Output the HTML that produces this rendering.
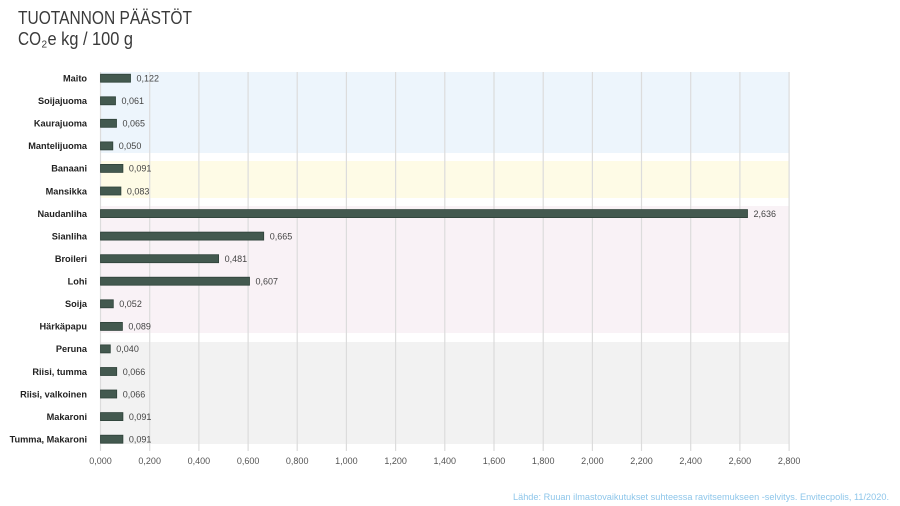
<!DOCTYPE html>
<html>
<head>
<meta charset="utf-8">
<style>
html,body{margin:0;padding:0;background:#fff;}
svg{display:block;}
text{font-family:"Liberation Sans",sans-serif;}
</style>
</head>
<body>
<svg width="900" height="506" viewBox="0 0 900 506" xmlns="http://www.w3.org/2000/svg">
  <!-- Title -->
  <text x="18" y="24" font-size="18.5" fill="#3a3a3a" textLength="174" lengthAdjust="spacingAndGlyphs">TUOTANNON PÄÄSTÖT</text>
  <text x="18" y="45" font-size="18.5" fill="#3a3a3a" textLength="23" lengthAdjust="spacingAndGlyphs">CO</text>
  <text x="41.5" y="47.5" font-size="10" fill="#3a3a3a">2</text>
  <text x="47.5" y="45" font-size="18.5" fill="#3a3a3a" textLength="85.5" lengthAdjust="spacingAndGlyphs">e kg / 100 g</text>

  <!-- Bands -->
  <rect x="100" y="72" width="689" height="81" fill="#edf5fc"/>
  <rect x="100" y="161" width="689" height="37" fill="#fefbe6"/>
  <rect x="100" y="206" width="689" height="127" fill="#f9f2f6"/>
  <rect x="100" y="342" width="689" height="102" fill="#f2f2f2"/>

  <!-- Gridlines -->
  <g stroke="#dcdcdc" stroke-width="1.2">
    <line x1="100.5" y1="72" x2="100.5" y2="451"/>
    <line x1="149.7" y1="72" x2="149.7" y2="451"/>
    <line x1="198.9" y1="72" x2="198.9" y2="451"/>
    <line x1="248.1" y1="72" x2="248.1" y2="451"/>
    <line x1="297.2" y1="72" x2="297.2" y2="451"/>
    <line x1="346.4" y1="72" x2="346.4" y2="451"/>
    <line x1="395.6" y1="72" x2="395.6" y2="451"/>
    <line x1="444.8" y1="72" x2="444.8" y2="451"/>
    <line x1="494.0" y1="72" x2="494.0" y2="451"/>
    <line x1="543.2" y1="72" x2="543.2" y2="451"/>
    <line x1="592.4" y1="72" x2="592.4" y2="451"/>
    <line x1="641.5" y1="72" x2="641.5" y2="451"/>
    <line x1="690.7" y1="72" x2="690.7" y2="451"/>
    <line x1="739.9" y1="72" x2="739.9" y2="451"/>
    <line x1="789.1" y1="72" x2="789.1" y2="451"/>
  </g>

  <!-- Axis labels -->
  <g font-size="9" fill="#555" text-anchor="middle">
    <text x="100.5" y="464">0,000</text>
    <text x="149.7" y="464">0,200</text>
    <text x="198.9" y="464">0,400</text>
    <text x="248.1" y="464">0,600</text>
    <text x="297.2" y="464">0,800</text>
    <text x="346.4" y="464">1,000</text>
    <text x="395.6" y="464">1,200</text>
    <text x="444.8" y="464">1,400</text>
    <text x="494.0" y="464">1,600</text>
    <text x="543.2" y="464">1,800</text>
    <text x="592.4" y="464">2,000</text>
    <text x="641.5" y="464">2,200</text>
    <text x="690.7" y="464">2,400</text>
    <text x="739.9" y="464">2,600</text>
    <text x="789.1" y="464">2,800</text>
  </g>

  <!-- Category labels -->
  <g font-size="9.2" font-weight="bold" fill="#222" text-anchor="end">
    <text x="87" y="81.5">Maito</text>
    <text x="87" y="104.1">Soijajuoma</text>
    <text x="87" y="126.6">Kaurajuoma</text>
    <text x="87" y="149.2">Mantelijuoma</text>
    <text x="87" y="171.7">Banaani</text>
    <text x="87" y="194.3">Mansikka</text>
    <text x="87" y="216.9">Naudanliha</text>
    <text x="87" y="239.4">Sianliha</text>
    <text x="87" y="262.0">Broileri</text>
    <text x="87" y="284.5">Lohi</text>
    <text x="87" y="307.1">Soija</text>
    <text x="87" y="329.7">Härkäpapu</text>
    <text x="87" y="352.2">Peruna</text>
    <text x="87" y="374.8">Riisi, tumma</text>
    <text x="87" y="397.3">Riisi, valkoinen</text>
    <text x="87" y="419.9">Makaroni</text>
    <text x="87" y="442.5">Tumma, Makaroni</text>
  </g>

  <!-- Bars -->
  <g fill="#43594f" stroke="#2e4139" stroke-width="0.8">
    <rect x="100.5" y="74.2" width="30.0" height="8"/>
    <rect x="100.5" y="96.8" width="15.0" height="8"/>
    <rect x="100.5" y="119.3" width="16.0" height="8"/>
    <rect x="100.5" y="141.9" width="12.3" height="8"/>
    <rect x="100.5" y="164.4" width="22.4" height="8"/>
    <rect x="100.5" y="187.0" width="20.4" height="8"/>
    <rect x="100.5" y="209.6" width="647.0" height="8"/>
    <rect x="100.5" y="232.1" width="163.2" height="8"/>
    <rect x="100.5" y="254.7" width="118.1" height="8"/>
    <rect x="100.5" y="277.2" width="149.0" height="8"/>
    <rect x="100.5" y="299.8" width="12.8" height="8"/>
    <rect x="100.5" y="322.4" width="21.9" height="8"/>
    <rect x="100.5" y="344.9" width="9.8" height="8"/>
    <rect x="100.5" y="367.5" width="16.2" height="8"/>
    <rect x="100.5" y="390.0" width="16.2" height="8"/>
    <rect x="100.5" y="412.6" width="22.4" height="8"/>
    <rect x="100.5" y="435.2" width="22.4" height="8"/>
  </g>

  <!-- Value labels -->
  <g font-size="9" fill="#444">
    <text x="136.5" y="81.5">0,122</text>
    <text x="121.5" y="104.1">0,061</text>
    <text x="122.5" y="126.6">0,065</text>
    <text x="118.8" y="149.2">0,050</text>
    <text x="128.9" y="171.7">0,091</text>
    <text x="126.9" y="194.3">0,083</text>
    <text x="753.5" y="216.9">2,636</text>
    <text x="269.7" y="239.4">0,665</text>
    <text x="224.6" y="262.0">0,481</text>
    <text x="255.5" y="284.5">0,607</text>
    <text x="119.3" y="307.1">0,052</text>
    <text x="128.4" y="329.7">0,089</text>
    <text x="116.3" y="352.2">0,040</text>
    <text x="122.7" y="374.8">0,066</text>
    <text x="122.7" y="397.3">0,066</text>
    <text x="128.9" y="419.9">0,091</text>
    <text x="128.9" y="442.5">0,091</text>
  </g>

  <!-- Source -->
  <text x="513" y="500" font-size="9" fill="#8ec6ea" textLength="376" lengthAdjust="spacingAndGlyphs">Lähde: Ruuan ilmastovaikutukset suhteessa ravitsemukseen -selvitys. Envitecpolis, 11/2020.</text>
</svg>
</body>
</html>
